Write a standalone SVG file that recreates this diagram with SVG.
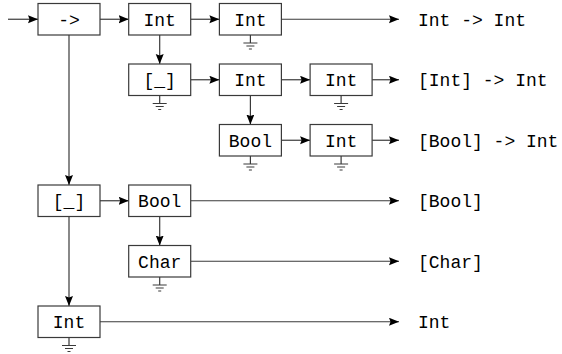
<svg xmlns="http://www.w3.org/2000/svg" width="562" height="354" viewBox="0 0 562 354">
  <style>
    .box { fill: #fff; stroke: #3a3a3a; stroke-width: 1.2; }
    .edge { fill: none; stroke: #3a3a3a; stroke-width: 1.2; marker-end: url(#arrow); }
    .gnd { fill: none; stroke: #3a3a3a; stroke-width: 1.2; }
    text { font-family: "Liberation Mono", "DejaVu Sans Mono", monospace; font-size: 18px; fill: #000; }
    .c { text-anchor: middle; }
  </style>
  <defs>
    <marker id="arrow" markerUnits="userSpaceOnUse" markerWidth="12" markerHeight="10" refX="10" refY="4" orient="auto">
      <path d="M0,0 L10,4 L0,8 L1.5,4 z" fill="#000"/>
    </marker>
    <!-- ground symbol, origin at the bottom edge of a box -->
    <g id="ground" class="gnd">
      <path d="M0,0 V8 M-7,8 H7 M-4,11 H4 M-1.5,14 H1.5"/>
    </g>
  </defs>

  <!-- connectors -->
  <g id="edges">
    <path class="edge" d="M8,19.25 H38"/>
    <path class="edge" d="M100,19.25 H128.7"/>
    <path class="edge" d="M190.7,19.25 H219.4"/>
    <path class="edge" d="M281.4,19.25 H399"/>
    <path class="edge" d="M159.7,35 V64"/>
    <path class="edge" d="M190.7,79.75 H219.4"/>
    <path class="edge" d="M281.4,79.75 H310.1"/>
    <path class="edge" d="M372.1,79.75 H399"/>
    <path class="edge" d="M250.4,95.5 V124.5"/>
    <path class="edge" d="M281.4,140.25 H310.1"/>
    <path class="edge" d="M372.1,140.25 H399"/>
    <path class="edge" d="M69,35 V185"/>
    <path class="edge" d="M100,200.75 H128.7"/>
    <path class="edge" d="M190.7,200.75 H399"/>
    <path class="edge" d="M159.7,216.5 V245.5"/>
    <path class="edge" d="M190.7,261.25 H399"/>
    <path class="edge" d="M69,216.5 V306"/>
    <path class="edge" d="M100,321.75 H399"/>
  </g>

  <!-- nodes -->
  <g id="n-arrow">
    <rect class="box" x="38" y="3.5" width="62" height="31.5"/>
    <text class="c" x="69" y="25.75">-&gt;</text>
  </g>
  <g id="n-int-a">
    <rect class="box" x="128.7" y="3.5" width="62" height="31.5"/>
    <text class="c" x="159.7" y="25.75">Int</text>
  </g>
  <g id="n-int-b">
    <rect class="box" x="219.4" y="3.5" width="62" height="31.5"/>
    <text class="c" x="250.4" y="25.75">Int</text>
    <use href="#ground" x="250.4" y="35"/>
  </g>
  <g id="n-list-a">
    <rect class="box" x="128.7" y="64" width="62" height="31.5"/>
    <text class="c" x="159.7" y="86.25">[_]</text>
    <use href="#ground" x="159.7" y="95.5"/>
  </g>
  <g id="n-int-c">
    <rect class="box" x="219.4" y="64" width="62" height="31.5"/>
    <text class="c" x="250.4" y="86.25">Int</text>
  </g>
  <g id="n-int-d">
    <rect class="box" x="310.1" y="64" width="62" height="31.5"/>
    <text class="c" x="341.1" y="86.25">Int</text>
    <use href="#ground" x="341.1" y="95.5"/>
  </g>
  <g id="n-bool-a">
    <rect class="box" x="219.4" y="124.5" width="62" height="31.5"/>
    <text class="c" x="250.4" y="146.75">Bool</text>
    <use href="#ground" x="250.4" y="156"/>
  </g>
  <g id="n-int-e">
    <rect class="box" x="310.1" y="124.5" width="62" height="31.5"/>
    <text class="c" x="341.1" y="146.75">Int</text>
    <use href="#ground" x="341.1" y="156"/>
  </g>
  <g id="n-list-b">
    <rect class="box" x="38" y="185" width="62" height="31.5"/>
    <text class="c" x="69" y="207.25">[_]</text>
  </g>
  <g id="n-bool-b">
    <rect class="box" x="128.7" y="185" width="62" height="31.5"/>
    <text class="c" x="159.7" y="207.25">Bool</text>
  </g>
  <g id="n-char">
    <rect class="box" x="128.7" y="245.5" width="62" height="31.5"/>
    <text class="c" x="159.7" y="267.75">Char</text>
    <use href="#ground" x="159.7" y="277"/>
  </g>
  <g id="n-int-f">
    <rect class="box" x="38" y="306" width="62" height="31.5"/>
    <text class="c" x="69" y="328.25">Int</text>
    <use href="#ground" x="69" y="337.5"/>
  </g>

  <!-- resulting types -->
  <g id="results">
    <text x="418" y="25.75">Int -&gt; Int</text>
    <text x="418" y="86.25">[Int] -&gt; Int</text>
    <text x="418" y="146.75">[Bool] -&gt; Int</text>
    <text x="418" y="207.25">[Bool]</text>
    <text x="418" y="267.75">[Char]</text>
    <text x="418" y="328.25">Int</text>
  </g>
</svg>
